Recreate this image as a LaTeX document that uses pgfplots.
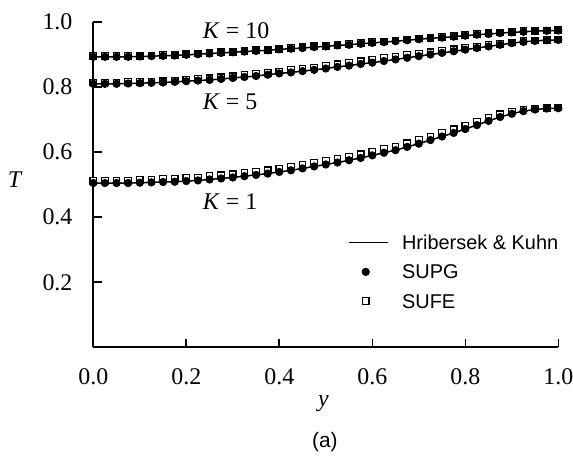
\documentclass[border=0pt]{standalone}
\usepackage{fontspec}
\setmainfont{Liberation Serif}
\newfontfamily\arial{Liberation Sans}
\usepackage{pgfplots}
\pgfplotsset{compat=1.18}
\usepackage{pgfplotstable}

\pgfplotsset{
  hkline/.style={legend image code/.code={\draw[##1] (0bp,0bp) -- (19.5bp,0bp);}},
  supg/.style={only marks, mark=*, mark size=1.85bp, black},
  sufe/.style={only marks, mark=square*, mark size=1.65bp, mark options={fill=white, draw=black, line width=0.6bp}},
}

% x, K=1 (SUPG/line), K=1 SUFE, K=5, K=5 SUFE, K=10, K=10 SUFE
\pgfplotstableread{
x     k1   k1s  k5   k5s  k10  k10s
0.000 .505 .512 .810 .814 .893 .895
0.025 .505 .512 .810 .814 .893 .895
0.050 .505 .512 .810 .814 .893 .895
0.075 .505 .512 .811 .815 .893 .895
0.100 .506 .514 .812 .816 .894 .896
0.125 .507 .515 .813 .817 .895 .897
0.150 .508 .517 .814 .818 .896 .898
0.175 .509 .518 .816 .820 .897 .899
0.200 .511 .520 .818 .823 .899 .901
0.225 .513 .522 .820 .825 .901 .903
0.250 .516 .526 .822 .827 .903 .905
0.275 .519 .529 .825 .830 .905 .907
0.300 .522 .532 .828 .833 .907 .909
0.325 .526 .536 .831 .837 .909 .911
0.350 .530 .540 .834 .840 .911 .913
0.375 .534 .544 .838 .844 .913 .915
0.400 .539 .549 .842 .848 .916 .918
0.425 .544 .554 .845 .852 .918 .920
0.450 .550 .560 .849 .856 .920 .922
0.475 .556 .566 .853 .860 .923 .925
0.500 .562 .573 .857 .865 .925 .927
0.525 .568 .579 .862 .870 .928 .930
0.550 .575 .586 .866 .874 .930 .932
0.575 .582 .593 .871 .879 .933 .935
0.600 .590 .601 .875 .884 .936 .938
0.625 .598 .609 .880 .889 .938 .940
0.650 .606 .617 .885 .894 .941 .943
0.675 .616 .627 .890 .898 .944 .946
0.700 .626 .637 .895 .903 .947 .949
0.725 .637 .648 .900 .907 .950 .952
0.750 .648 .659 .905 .912 .952 .954
0.775 .659 .670 .910 .916 .955 .957
0.800 .671 .682 .915 .920 .958 .960
0.825 .683 .693 .920 .924 .961 .963
0.850 .696 .705 .925 .929 .963 .965
0.875 .708 .716 .930 .933 .966 .968
0.900 .718 .725 .935 .937 .968 .970
0.925 .726 .731 .939 .941 .970 .972
0.950 .731 .734 .942 .943 .972 .973
0.975 .734 .736 .944 .945 .973 .974
1.000 .735 .737 .945 .946 .974 .975
}\tdata

\begin{document}
\begin{tikzpicture}
\begin{axis}[
  scale only axis, width=232.5bp, height=162.65bp,
  xmin=0, xmax=1, ymin=0, ymax=1,
  clip=false,
  axis lines=left, axis line style={-, line width=0.9bp},
  tick align=inside, major tick length=4.2bp,
  tick style={line width=0.8bp, black},
  xtick={0,0.2,0.4,0.6,0.8,1}, ytick={0.2,0.4,0.6,0.8,1},
  /pgf/number format/.cd, fixed, fixed zerofill, precision=1, assume math mode=true,
  /pgfplots/.cd,
  xticklabel style={font=\fontsize{12}{14}\selectfont, anchor=north, inner sep=0pt, yshift=-10.5bp},
  yticklabel style={font=\fontsize{12}{14}\selectfont, anchor=east, inner sep=0pt, xshift=-10.25bp},
  xlabel={\textit{y}},
  xlabel style={at={(axis description cs:0.495,-0.174)}, anchor=center, inner sep=0pt, font=\fontsize{12}{14}\selectfont},
  ylabel={\textit{T}},
  ylabel style={at={(axis description cs:-0.168,0.515)}, anchor=center, rotate=-90, inner sep=0pt, font=\fontsize{12}{14}\selectfont},
  legend style={draw=none, fill=none, at={(axis description cs:0.5477,0.3554)}, anchor=north west,
    inner sep=0pt, outer sep=0pt, row sep=3.6bp, column sep=6.3bp,
    font=\arial\fontsize{10}{12}\selectfont,
    nodes={text height=8.5bp, text depth=1.5bp, inner sep=0.5bp}},
  legend cell align=left,
]
\addlegendimage{black, line width=0.75bp, hkline}
\addlegendentry{Hribersek \& Kuhn}
\addlegendimage{supg}
\addlegendentry{SUPG}
\addlegendimage{sufe}
\addlegendentry{SUFE}

% SUFE squares
\addplot[sufe] table[x=x, y=k1s]{\tdata};
\addplot[sufe] table[x=x, y=k5s]{\tdata};
\addplot[sufe] table[x=x, y=k10s]{\tdata};
% Hribersek & Kuhn lines
\addplot[black, line width=0.75bp, no marks] table[x=x, y=k1]{\tdata};
\addplot[black, line width=0.75bp, no marks] table[x=x, y=k5]{\tdata};
\addplot[black, line width=0.75bp, no marks] table[x=x, y=k10]{\tdata};
% SUPG circles
\addplot[supg] table[x=x, y=k1]{\tdata};
\addplot[supg] table[x=x, y=k5]{\tdata};
\addplot[supg] table[x=x, y=k10]{\tdata};

\node[anchor=west, inner sep=0pt, font=\fontsize{12}{14}\selectfont] at (axis cs:0.235,0.972) {\textit{K} = 10};
\node[anchor=west, inner sep=0pt, font=\fontsize{12}{14}\selectfont] at (axis cs:0.235,0.756) {\textit{K} = 5};
\node[anchor=west, inner sep=0pt, font=\fontsize{12}{14}\selectfont] at (axis cs:0.235,0.449) {\textit{K} = 1};
\node[inner sep=0pt, font=\arial\fontsize{10.5}{12}\selectfont] at (axis description cs:0.498,-0.29) {(a)};
\end{axis}
\pgfresetboundingbox
\path[use as bounding box] (-46.65bp,-55.85bp) rectangle (239.85bp,173.65bp);
\end{tikzpicture}
\end{document}
